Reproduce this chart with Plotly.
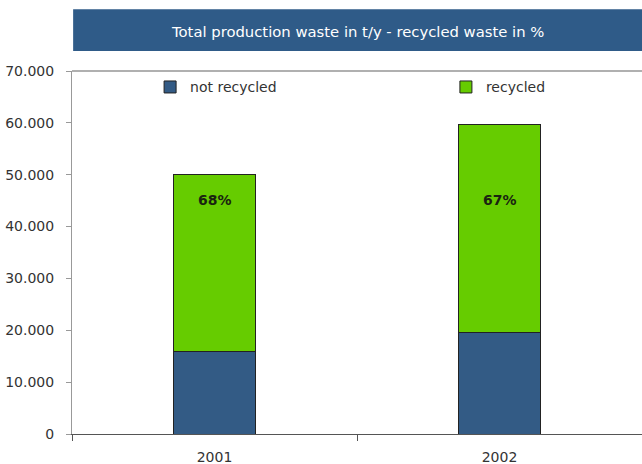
import plotly.graph_objects as go

years = ["2001", "2002"]
not_recycled = [16000, 19500]
recycled = [34000, 40100]
pct_labels = ["68%", "67%"]
title_text = "Total production waste in t/y - recycled waste in %"
y_ticks = [0, 10000, 20000, 30000, 40000, 50000, 60000, 70000]

FONT = "DejaVu Sans"
BLUE = "#335b85"
GREEN = "#66cc00"

fig = go.Figure()
fig.add_trace(go.Bar(name="not recycled", x=years, y=not_recycled,
                     marker=dict(color=BLUE, line=dict(color="#222", width=1)),
                     width=0.29, legend="legend"))
fig.add_trace(go.Bar(name="recycled", x=years, y=recycled,
                     marker=dict(color=GREEN, line=dict(color="#222", width=1)),
                     width=0.29, legend="legend2"))

# percentage labels: all on one common row inside the green bars
for i, lab in enumerate(pct_labels):
    fig.add_annotation(x=i, xref="x", yref="paper", y=0.645, yanchor="middle",
                       text="<b>" + lab + "</b>", showarrow=False,
                       font=dict(family=FONT, size=14, color="#1a2410"))

# title bar
fig.add_shape(type="rect", xref="paper", yref="paper", x0=0.002, x1=1.0,
              y0=1.055, y1=1.17, fillcolor="#2f5b88", line=dict(width=0), layer="below")
fig.add_annotation(xref="paper", yref="paper", x=0.5, y=1.110, yanchor="middle",
                   xanchor="center", text=title_text, showarrow=False,
                   font=dict(family=FONT, size=14.8, color="white"))
# top border
fig.add_shape(type="line", xref="paper", yref="paper", x0=0, x1=1, y0=1, y1=1,
              line=dict(color="#b0b0b0", width=2))

leg_common = dict(orientation="h", yanchor="top", xanchor="left", y=0.999,
                  font=dict(family=FONT, size=14, color="#333"),
                  bgcolor="rgba(0,0,0,0)", borderwidth=0)
fig.update_layout(
    width=642, height=464,
    margin=dict(l=72, r=0, t=71, b=30, autoexpand=False),
    barmode="stack",
    paper_bgcolor="white", plot_bgcolor="white",
    separators=",.",
    font=dict(family=FONT, size=14, color="#333"),
    showlegend=True,
    legend=dict(x=0.137, **leg_common),
    legend2=dict(x=0.656, **leg_common),
)
fig.update_yaxes(range=[0, 70000], tickvals=y_ticks, tickformat=",d",
                 showgrid=False, zeroline=False, showline=True, linecolor="#999",
                 linewidth=1, ticks="outside", ticklen=5, tickcolor="#999",
                 ticklabelstandoff=9,
                 tickfont=dict(family=FONT, size=14, color="#333"))
fig.update_xaxes(type="category", range=[-0.5, 1.5], showgrid=False, showline=True,
                 linecolor="#555", linewidth=1,
                 ticks="outside", tickson="boundaries", ticklen=6, tickcolor="#555",
                 ticklabelstandoff=10, tickangle=0,
                 tickfont=dict(family=FONT, size=14, color="#333"))

fig.write_html("out.html", config={"displayModeBar": False},
               post_script="document.body.style.margin='0';")
